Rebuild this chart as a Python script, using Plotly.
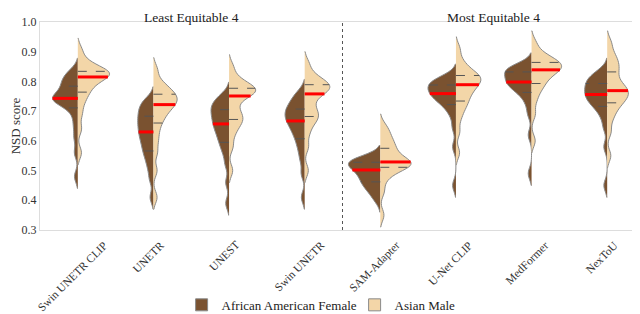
import numpy as np
import plotly.graph_objects as go

models = ["Swin UNETR CLIP", "UNETR", "UNEST", "Swin UNETR",
          "SAM-Adapter", "U-Net CLIP", "MedFormer", "NexToU"]
group_titles = ["Least Equitable 4", "Most Equitable 4"]
y_ticks = [0.3, 0.4, 0.5, 0.6, 0.7, 0.8, 0.9, 1.0]

# NSD scores, African American Female
aaf_swin_unetr_clip = [0.48, 0.56, 0.61, 0.65, 0.685, 0.711, 0.722, 0.730, 0.736, 0.740, 0.743,
                       0.748, 0.754, 0.762, 0.773, 0.784, 0.793, 0.802, 0.812, 0.824, 0.838]
aaf_unetr = [0.41, 0.47, 0.505, 0.53, 0.55, 0.566, 0.58, 0.595, 0.607, 0.619, 0.630,
             0.641, 0.652, 0.662, 0.673, 0.683, 0.694, 0.705, 0.716, 0.728, 0.742]
aaf_unest = [0.39, 0.46, 0.52, 0.555, 0.578, 0.595, 0.610, 0.624, 0.636, 0.647, 0.657,
             0.667, 0.677, 0.686, 0.696, 0.705, 0.713, 0.722, 0.731, 0.742, 0.757]
aaf_swin_unetr = [0.41, 0.49, 0.535, 0.565, 0.588, 0.607, 0.622, 0.636, 0.647, 0.657, 0.667,
                  0.675, 0.683, 0.691, 0.699, 0.707, 0.716, 0.726, 0.737, 0.750, 0.767]
aaf_sam_adapter = [0.40, 0.42, 0.435, 0.445, 0.454, 0.462, 0.470, 0.478, 0.486, 0.494, 0.502,
                   0.507, 0.512, 0.517, 0.522, 0.528, 0.531, 0.534, 0.537, 0.540, 0.544]
aaf_unet_clip = [0.45, 0.58, 0.645, 0.685, 0.706, 0.722, 0.731, 0.739, 0.746, 0.753, 0.759,
                 0.765, 0.770, 0.776, 0.782, 0.788, 0.793, 0.798, 0.804, 0.810, 0.818]
aaf_medformer = [0.49, 0.62, 0.69, 0.725, 0.747, 0.763, 0.772, 0.780, 0.787, 0.793, 0.798,
                 0.804, 0.810, 0.817, 0.825, 0.832, 0.837, 0.841, 0.845, 0.850, 0.856]
aaf_nextou = [0.45, 0.58, 0.645, 0.68, 0.70, 0.716, 0.725, 0.733, 0.741, 0.749, 0.756,
              0.763, 0.770, 0.777, 0.785, 0.793, 0.800, 0.807, 0.815, 0.824, 0.838]

# NSD scores, Asian Male
am_swin_unetr_clip = [0.56, 0.64, 0.69, 0.725, 0.748, 0.764, 0.777, 0.789, 0.800, 0.808, 0.815,
                      0.819, 0.823, 0.827, 0.831, 0.834, 0.840, 0.847, 0.857, 0.872, 0.905]
am_unetr = [0.41, 0.50, 0.56, 0.60, 0.633, 0.660, 0.677, 0.692, 0.704, 0.714, 0.722,
            0.729, 0.736, 0.743, 0.750, 0.757, 0.765, 0.774, 0.786, 0.802, 0.840]
am_unest = [0.50, 0.58, 0.62, 0.645, 0.66, 0.672, 0.682, 0.695, 0.713, 0.735, 0.751,
            0.757, 0.762, 0.767, 0.772, 0.777, 0.783, 0.790, 0.800, 0.817, 0.850]
am_swin_unetr = [0.50, 0.58, 0.625, 0.655, 0.670, 0.682, 0.692, 0.705, 0.723, 0.743, 0.758,
                 0.765, 0.771, 0.777, 0.783, 0.789, 0.795, 0.802, 0.812, 0.828, 0.860]
am_sam_adapter = [0.35, 0.43, 0.47, 0.49, 0.502, 0.511, 0.515, 0.519, 0.522, 0.526, 0.529,
                  0.535, 0.543, 0.553, 0.564, 0.575, 0.586, 0.598, 0.612, 0.630, 0.650]
am_unet_clip = [0.56, 0.63, 0.675, 0.703, 0.72, 0.734, 0.748, 0.760, 0.771, 0.780, 0.789,
                0.796, 0.803, 0.809, 0.815, 0.820, 0.828, 0.838, 0.852, 0.872, 0.910]
am_medformer = [0.60, 0.69, 0.735, 0.763, 0.781, 0.793, 0.805, 0.817, 0.826, 0.833, 0.839,
                0.844, 0.849, 0.854, 0.859, 0.864, 0.870, 0.877, 0.886, 0.900, 0.930]
am_nextou = [0.55, 0.63, 0.672, 0.697, 0.714, 0.728, 0.737, 0.746, 0.754, 0.762, 0.769,
             0.777, 0.786, 0.797, 0.814, 0.832, 0.846, 0.860, 0.876, 0.895, 0.930]

aaf_scores = [aaf_swin_unetr_clip, aaf_unetr, aaf_unest, aaf_swin_unetr,
              aaf_sam_adapter, aaf_unet_clip, aaf_medformer, aaf_nextou]
am_scores = [am_swin_unetr_clip, am_unetr, am_unest, am_swin_unetr,
             am_sam_adapter, am_unet_clip, am_medformer, am_nextou]

BW = 0.02
WIDTH = 0.84
BROWN = "#7a5230"
TAN = "#f3d6a8"
FONT = "Liberation Serif"


def kde(vals, x):
    v = np.asarray(vals, float)
    x = np.atleast_1d(np.asarray(x, float))
    z = (x[:, None] - v[None, :]) / BW
    return np.exp(-0.5 * z * z).sum(axis=1) / (len(v) * BW * np.sqrt(2 * np.pi))


def grid_max(vals):
    # same evaluation grid as plotly.js violin calc
    lo, hi = min(vals) - 2 * BW, max(vals) + 2 * BW
    n = int(np.ceil((hi - lo) / (BW / 3)))
    t = lo + (hi - lo) / n * np.arange(n + 1)
    return kde(vals, t).max()


fig = go.Figure()


def add_group(scores, name, color, side):
    xs, ys = [], []
    for i, s in enumerate(scores):
        xs += [i] * len(s)
        ys += list(s)
    fig.add_trace(go.Violin(
        x=xs, y=ys, name=name, side=side, width=WIDTH, bandwidth=BW,
        fillcolor=color, line=dict(color="#8a8a8a", width=1), opacity=1,
        points=False, box_visible=False, meanline_visible=False,
        spanmode="soft", hoverinfo="skip", legendgroup=name, showlegend=True,
    ))
    max_kde = max(grid_max(s) for s in scores)
    sign = -1 if side == "negative" else 1
    for i, s in enumerate(scores):
        q1, med, q3 = np.percentile(s, [25, 50, 75])
        for q, col, w, dash in [(q1, "#555555", 1, "dash"), (q3, "#555555", 1, "dash"),
                                (med, "#ff0000", 3, "solid")]:
            half = WIDTH / 2 * kde(s, q)[0] / max_kde
            fig.add_trace(go.Scatter(
                x=[i, i + sign * half], y=[q, q], mode="lines",
                line=dict(color=col, width=w, dash=dash),
                showlegend=False, hoverinfo="skip"))


add_group(aaf_scores, "African American Female", BROWN, "negative")
add_group(am_scores, "Asian Male", TAN, "positive")

fig.add_shape(type="line", xref="x", yref="paper", x0=3.5, x1=3.5, y0=0, y1=1,
              line=dict(color="#555555", width=1, dash="dot"))

for k, title in enumerate(group_titles):
    fig.add_annotation(x=1.5 + 4 * k, y=1.0, xref="x", yref="paper", yanchor="middle",
                       text=title, showarrow=False, yshift=5,
                       font=dict(family=FONT, size=13.5, color="#222222"))

# category labels, rotated and centred under each violin
for i, m in enumerate(models):
    fig.add_annotation(x=i, y=0, xref="x", yref="paper", xanchor="center", yanchor="top",
                       text=m, textangle=-45, showarrow=False, yshift=-6, xshift=-5,
                       font=dict(family=FONT, size=11.5, color="#333333"))

fig.update_layout(
    width=640, height=314,
    margin=dict(l=30, r=2, t=14, b=86),
    plot_bgcolor="white", paper_bgcolor="white",
    violinmode="overlay",
    font=dict(family=FONT, size=12, color="#333333"),
    legend=dict(orientation="h", x=0.52, xanchor="center", y=-0.36, yanchor="middle",
                font=dict(family=FONT, size=13, color="#222222"), itemwidth=30,
                entrywidth=128, entrywidthmode="pixels"),
    xaxis=dict(range=[-0.5, 7.5], tickmode="array", tickvals=list(range(len(models))),
               showticklabels=False, showgrid=False, zeroline=False,
               showline=True, mirror=True, linecolor="#dddddd", ticks=""),
    yaxis=dict(range=[0.3, 1.0], tickmode="array", tickvals=y_ticks,
               ticktext=[f"{v:.1f}" for v in y_ticks], showgrid=False, zeroline=False,
               showline=True, mirror=True, linecolor="#dddddd", ticks="",
               title=dict(text="NSD score", standoff=2,
                          font=dict(family=FONT, size=13, color="#333333")),
               tickfont=dict(family=FONT, size=12, color="#333333")),
)

fig.write_html("out.html")
